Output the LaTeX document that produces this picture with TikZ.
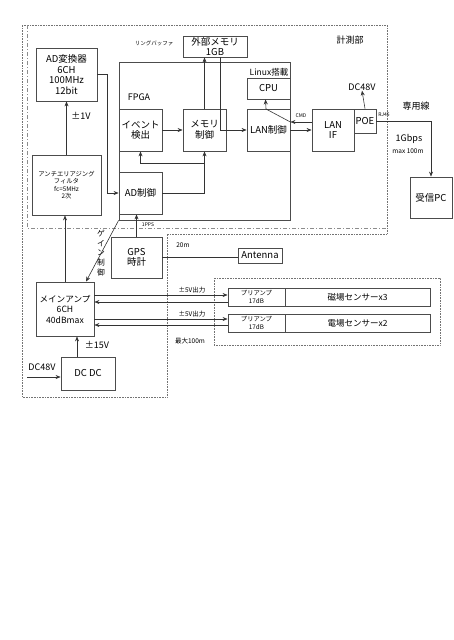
\documentclass[tikz,border=0pt]{standalone}
\usepackage{fontspec}
\setmainfont{Noto Sans CJK JP}
\usetikzlibrary{arrows.meta, positioning, calc}

\begin{document}
\begin{tikzpicture}[x=1pt, y=-1pt,
                box/.style={draw=black!70, line width=0.8pt, align=center, inner sep=0pt, font=\fontsize{9.5}{10.5}\selectfont},
                sbox/.style={box, font=\fontsize{6.3}{7.4}\selectfont},
                lbl/.style={inner sep=0pt, align=center, font=\fontsize{9}{10}\selectfont},
                smalltxt/.style={inner sep=0pt, font=\fontsize{6.5}{7}\selectfont},
                tinytxt/.style={inner sep=0pt, font=\fontsize{5}{5}\selectfont},
                arr/.style={-{Stealth[length=5pt, width=4pt]}, line width=0.6pt, black!80},
                ln/.style={line width=0.6pt, black!80},
                zone/.style={densely dotted, line width=0.6pt, black!55}
            ]
                \useasboundingbox (0,0) rectangle (453,640);
                \draw[zone] (22,25) -- (387,25) -- (387,234) -- (167,234) -- (167,397) -- (22,397) -- cycle;
                \draw[dash pattern=on 4pt off 2pt on 1pt off 2pt, line width=0.6pt, black!45] (27,25) -- (27,228) -- (387,228);
                \draw[zone] (214,278) rectangle (440,345);
                \node[box, minimum width=171pt, minimum height=158pt] (fpga) at (204.5,141) {};
                \node[box, minimum width=61pt, minimum height=53pt] (adc) at (66.5,74.5) {AD変換器\\6CH\\100MHz\\12bit};
                \node[sbox, minimum width=69pt, minimum height=60pt] (filt) at (66.5,185) {アンチエリアジング\\フィルタ\\fc=5MHz\\2次};
                \node[box, minimum width=43pt, minimum height=42pt] (evt) at (140.5,130) {イベント\\検出};
                \node[box, minimum width=43pt, minimum height=42pt] (memc) at (204.5,130) {メモリ\\制御};
                \node[box, minimum width=43pt, minimum height=42pt] (adcc) at (140.5,193) {AD制御};
                \node[box, minimum width=64pt, minimum height=21pt] (extm) at (215,46.5) {外部メモリ\\1GB};
                \node[box, minimum width=43pt, minimum height=21pt] (cpu) at (268.5,88.5) {CPU};
                \node[box, minimum width=43pt, minimum height=42pt] (lanc) at (268.5,130) {LAN制御};
                \node[box, minimum width=42pt, minimum height=42pt] (lanif) at (333,130) {LAN\\IF};
                \node[box, minimum width=22pt, minimum height=24pt] (poe) at (365,121) {POE};
                \node[box, minimum width=42pt, minimum height=41pt] (rpc) at (431,197.5) {受信PC};
                \node[box, minimum width=51pt, minimum height=41pt] (gps) at (136.5,257.5) {GPS\\時計};
                \node[box, minimum width=44pt, minimum height=15pt] (ant) at (260,255.5) {Antenna};
                \node[box, minimum width=58pt, minimum height=54pt, font=\fontsize{8.6}{10.5}\selectfont] (amp) at (65,309) {メインアンプ\\6CH\\40dBmax};
                \node[box, minimum width=54pt, minimum height=33pt] (dcdc) at (88,373.5) {DC DC};
                \node[sbox, minimum width=57pt, minimum height=18pt] (pre1) at (256.5,297) {プリアンプ\\17dB};
                \node[box, minimum width=145pt, minimum height=18pt, font=\fontsize{8.5}{9}\selectfont] (sen1) at (357.5,297) {磁場センサーx3};
                \node[sbox, minimum width=57pt, minimum height=18pt] (pre2) at (256.5,323) {プリアンプ\\17dB};
                \node[box, minimum width=145pt, minimum height=18pt, font=\fontsize{8.5}{9}\selectfont] (sen2) at (357.5,323) {電場センサーx2};
                \node[lbl] (meas) at (350,40) {計測部};
                \node[tinytxt, font=\fontsize{5.5}{6}\selectfont] (ring) at (154,43) {リングバッファ};
                \node[lbl] (fpgalbl) at (139,97) {FPGA};
                \node[lbl, font=\fontsize{8.5}{9}\selectfont] (linux) at (269,72) {Linux搭載};
                \node[lbl] (pm1v) at (81,116) {±1V};
                \node[tinytxt] (cmd) at (301,116) {CMD};
                \node[lbl] (dcpoe) at (362,87) {DC48V};
                \node[tinytxt] (rj45) at (384,115) {RJ45};
                \node[lbl] (dedi) at (416,106) {専用線};
                \node[lbl] (gbps) at (409,139) {1Gbps};
                \node[smalltxt] (max100) at (408,151) {max 100m};
                \node[tinytxt] (pps) at (148,225) {1PPS};
                \node[smalltxt] (twenty) at (183,245) {20m};
                \node[lbl, font=\fontsize{7.8}{9.6}\selectfont] (gainlbl) at (101,253) {ゲ\\イ\\ン\\制\\御};
                \node[smalltxt] (pwr1) at (192,290) {±5V出力};
                \node[smalltxt] (pwr2) at (192,314) {±5V出力};
                \node[smalltxt] (max100b) at (190,341) {最大100m};
                \node[lbl] (pm15v) at (97,345) {±15V};
                \node[lbl] (dcin) at (42,367) {DC48V};
                \coordinate (dcsrc) at (27,377);
                \coordinate (br) at (204,163);
                \coordinate (cmdbend) at (266,109);
                \draw[arr] (filt.north) -- (filt.north |- adc.south);
                \draw[arr] (adc.east) -- ++(10,0) |- (adcc.west);
                \draw[arr] (evt.east) -- (memc.west);
                \draw[arr] (adcc.east) -| (memc.south);
                \draw[arr] (br) -| (evt.south);
                \draw[arr] (memc.north) -- (memc.north |- extm.south);
                \draw[arr] ([xshift=5pt]extm.south) |- (lanc.west);
                \draw[arr] (lanc.east) -- (lanif.west);
                \draw[arr] ([yshift=8pt]lanif.west) -- ([yshift=8pt]lanc.east);
                \draw[arr] ([yshift=8pt]lanc.east) -- (cmdbend) -- ([xshift=-3pt]cpu.south);
                \draw[arr] (poe.north) -- (dcpoe.south);
                \draw[arr] (poe.east) -| (rpc.north);
                \draw[arr] (gps.north) -- (gps.north |- adcc.south);
                \draw[ln] (gps.east) -- (gps.east -| ant.west);
                \draw[arr] (amp.north) -- (amp.north |- filt.south);
                \draw[arr] (fpga.south west) -- ([xshift=21pt]amp.north);
                \draw[arr] ([yshift=2pt]pre1.west -| amp.east) -- ([yshift=2pt]pre1.west);
                \draw[arr] ([yshift=-5pt]pre1.west) -- ([yshift=-5pt]pre1.west -| amp.east);
                \draw[arr] ([yshift=4pt]pre2.west -| amp.east) -- ([yshift=4pt]pre2.west);
                \draw[arr] ([yshift=-2pt]pre2.west) -- ([yshift=-2pt]pre2.west -| amp.east);
                \draw[arr] ([xshift=-11pt]dcdc.north) -- ([xshift=-11pt]dcdc.north |- amp.south);
                \draw[arr] (dcsrc) -- (dcsrc -| dcdc.west);
            \end{tikzpicture}
\end{document}
